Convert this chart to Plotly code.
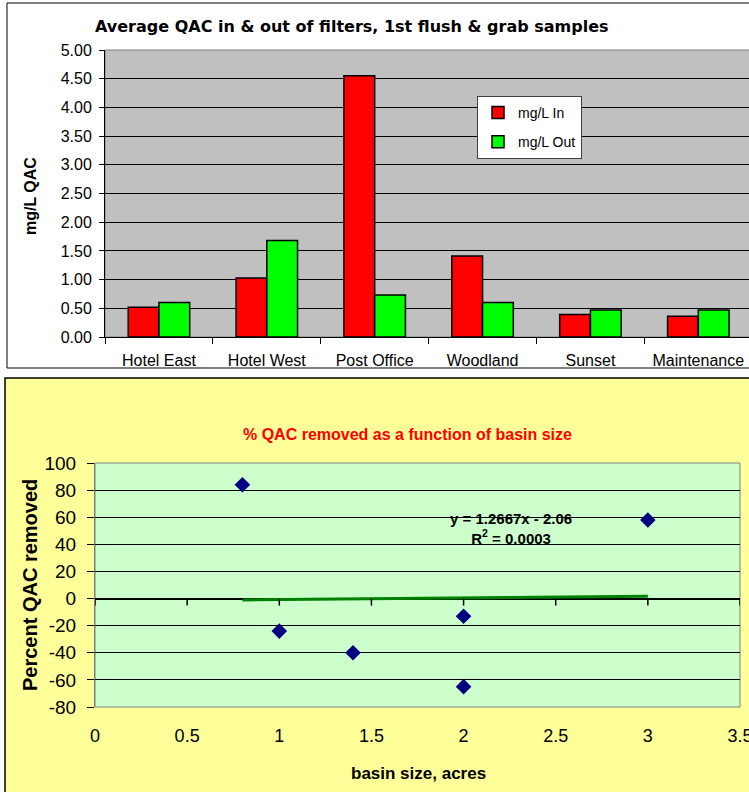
import plotly.graph_objects as go

# top chart data
sites = ['Hotel East', 'Hotel West', 'Post Office', 'Woodland', 'Sunset', 'Maintenance']
qac_in = [0.52, 1.03, 4.55, 1.41, 0.39, 0.36]
qac_out = [0.60, 1.68, 0.73, 0.60, 0.47, 0.47]
y1_ticks = [0, 0.5, 1, 1.5, 2, 2.5, 3, 3.5, 4, 4.5, 5]

# bottom chart data
basin_acres = [0.8, 1.0, 1.4, 2.0, 2.0, 3.0]
pct_removed = [84, -24, -40, -13, -65, 58]
x2_ticks = [0, 0.5, 1, 1.5, 2, 2.5, 3, 3.5]
y2_ticks = [-80, -60, -40, -20, 0, 20, 40, 60, 80, 100]
slope = 1.2667
intercept = -2.06
r2 = 0.0003

W, H = 749, 792
FONT = 'Liberation Sans, Arial, sans-serif'


def px(x):
    return x / W


def py(y):
    return 1 - y / H


fig = go.Figure()

# bars
fig.add_trace(go.Bar(x=sites, y=qac_in, name='mg/L In', legendgroup='a',
                     marker=dict(color='#FF0000', line=dict(color='black', width=1.5)),
                     xaxis='x', yaxis='y'))
fig.add_trace(go.Bar(x=sites, y=qac_out, name='mg/L Out', legendgroup='b',
                     marker=dict(color='#00FF00', line=dict(color='black', width=1.5)),
                     xaxis='x', yaxis='y'))

# scatter + linear trend line
fig.add_trace(go.Scatter(x=basin_acres, y=pct_removed, mode='markers', showlegend=False,
                         marker=dict(symbol='diamond', color='#000080', size=12),
                         xaxis='x2', yaxis='y2'))
x_fit = [min(basin_acres), max(basin_acres)]
y_fit = [slope * v + intercept for v in x_fit]
fig.add_trace(go.Scatter(x=x_fit, y=y_fit, mode='lines', showlegend=False,
                         line=dict(color='#008000', width=3),
                         xaxis='x2', yaxis='y2'))

shapes = [
    # outer frame top chart
    dict(type='rect', xref='paper', yref='paper', x0=px(7), x1=px(770), y0=py(3), y1=py(368),
         line=dict(color='black', width=1), fillcolor='white', layer='below'),
    # outer yellow frame bottom chart
    dict(type='rect', xref='paper', yref='paper', x0=px(5), x1=px(770), y0=py(378), y1=py(810),
         line=dict(color='black', width=1.5), fillcolor='#FFFF99', layer='below'),
    # plot areas
    dict(type='rect', xref='x domain', yref='y domain', x0=0, x1=1.02, y0=0, y1=1,
         line=dict(color='#808080', width=1), fillcolor='#C0C0C0', layer='below'),
    dict(type='rect', xref='x2 domain', yref='y2 domain', x0=0, x1=1, y0=0, y1=1,
         line=dict(color='#808080', width=1), fillcolor='#CCFFCC', layer='below'),
]
# tick marks hanging from the zero line in the bottom chart
for t in x2_ticks:
    shapes.append(dict(type='line', xref='x2', yref='y2', x0=t, x1=t, y0=0, y1=-7,
                       ysizemode='pixel', yanchor=0, line=dict(color='black', width=1.5)))


def label(text, x, y, size, color='black', angle=0, family=FONT):
    return dict(text=text, xref='paper', yref='paper', x=px(x), y=py(y),
                xanchor='center', yanchor='middle', textangle=angle, showarrow=False,
                font=dict(size=size, color=color, family=family))


annotations = [
    label('<b>Average QAC in &amp; out of filters, 1st flush &amp; grab samples</b>',
          352, 27, 16, family='DejaVu Sans, sans-serif'),
    label('<b>mg/L QAC</b>', 30, 196, 16, angle=-90),
    label('<b>% QAC removed as a function of basin size</b>', 407, 435, 16, color='#FF0000'),
    label('<b>Percent QAC removed</b>', 30, 585, 20, angle=-90),
    label('<b>basin size, acres</b>', 418, 773, 17),
    dict(text='<b>y = %.4fx - %.2f<br>R<sup>2</sup> = %.4f</b>' % (slope, -intercept, r2),
         xref='x2', yref='y2', x=2.26, y=52, xanchor='center', yanchor='middle',
         showarrow=False, font=dict(size=15, color='black', family=FONT)),
]

fig.update_layout(
    template='none',
    width=W, height=H,
    margin=dict(l=0, r=0, t=0, b=0, autoexpand=False),
    paper_bgcolor='white',
    plot_bgcolor='rgba(0,0,0,0)',
    font=dict(family=FONT, color='black'),
    barmode='group', bargap=0.43, bargroupgap=0,
    showlegend=True,
    legend=dict(x=px(477), y=py(96), xanchor='left', yanchor='top',
                bgcolor='white', bordercolor='#404040', borderwidth=1,
                font=dict(size=14, family=FONT), traceorder='grouped',
                tracegroupgap=8, itemwidth=30),
    xaxis=dict(domain=[px(105), 1], anchor='y', type='category', range=[-0.5, 5.47],
               automargin=False, ticklabeloverflow='allow',
               showgrid=False, showline=True, linecolor='black', linewidth=1,
               ticks='outside', tickson='boundaries', ticklen=6, tickcolor='black',
               ticklabelstandoff=9, tickfont=dict(size=16)),
    yaxis=dict(domain=[py(337), py(50)], anchor='x', range=[0, 5], tickvals=y1_ticks,
               automargin=False, tickformat='.2f', showgrid=True, gridcolor='black', gridwidth=1,
               showline=True, linecolor='black', linewidth=1, zeroline=False,
               ticks='outside', ticklen=5, tickcolor='black', ticklabelstandoff=4,
               tickfont=dict(size=16)),
    xaxis2=dict(domain=[px(95), px(740)], anchor='y2', range=[0, 3.5], tickvals=x2_ticks,
                automargin=False, ticklabeloverflow='allow',
                showgrid=False, showline=False, zeroline=False, ticks='',
                ticklabelstandoff=16, tickfont=dict(size=18)),
    yaxis2=dict(domain=[py(707), py(463)], anchor='x2', range=[-80, 100], tickvals=y2_ticks,
                ticktext=[str(v) for v in y2_ticks],
                automargin=False, showgrid=True, gridcolor='black', gridwidth=1,
                zeroline=True, zerolinecolor='black', zerolinewidth=2,
                showline=True, linecolor='#808080', linewidth=1,
                ticks='outside', ticklen=7, tickcolor='black', ticklabelstandoff=7,
                tickfont=dict(size=19)),
    shapes=shapes,
    annotations=annotations,
)

fig.write_html("out.html", config={'displayModeBar': False},
               post_script="document.body.style.margin = '0';")
